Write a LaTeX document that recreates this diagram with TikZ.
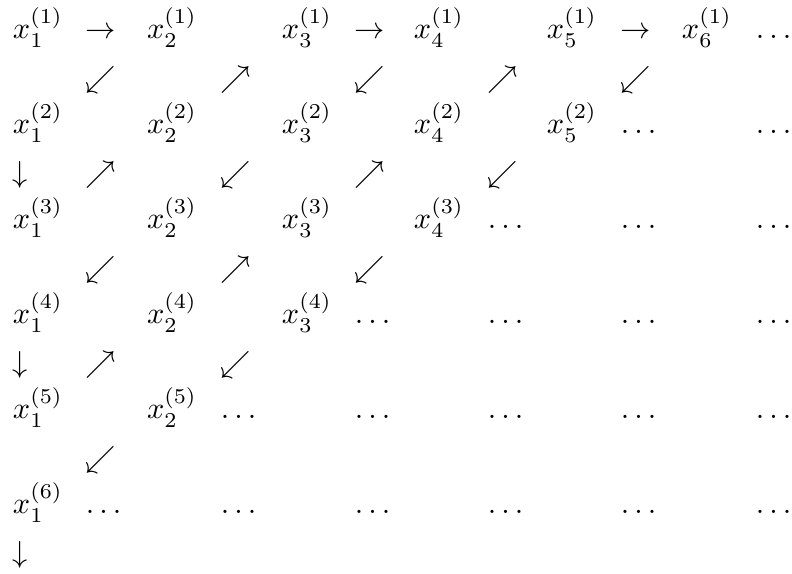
\documentclass[tikz,border=0pt]{standalone}
\begin{document}
\begin{tikzpicture}[x=0.33pt,y=-0.33pt,
  entry/.style={inner sep=0pt,outer sep=0pt,anchor=base west,execute at begin node=$,execute at end node=$},
  glyph/.style={inner sep=0pt,outer sep=0pt,anchor=base west,execute at begin node=$,execute at end node=$}]
\useasboundingbox (0,0) rectangle (792,574);
% column origins: c1=13 c2=86 c3=147 c4=221 c5=282 c6=355 c7=414 c8=488 c9=547 c10=621 c11=682 c12=756
% row 1
\node[entry] (x11) at (13,39) {x_1^{(1)}};
\node[glyph] (r11) at (86,39) {\rightarrow};
\node[entry] (x21) at (147,39) {x_2^{(1)}};
\node[entry] (x31) at (282,39) {x_3^{(1)}};
\node[glyph] (r31) at (355,39) {\rightarrow};
\node[entry] (x41) at (414,39) {x_4^{(1)}};
\node[entry] (x51) at (547,39) {x_5^{(1)}};
\node[glyph] (r51) at (621,39) {\rightarrow};
\node[entry] (x61) at (682,39) {x_6^{(1)}};
\node[entry] (d1-12) at (756,39) {\ldots};
% arrow row 1
\node[glyph] (a1-2) at (86,87.5) {\swarrow};
\node[glyph] (a1-4) at (221,87.5) {\nearrow};
\node[glyph] (a1-6) at (355,87.5) {\swarrow};
\node[glyph] (a1-8) at (488,87.5) {\nearrow};
\node[glyph] (a1-10) at (621,87.5) {\swarrow};
% row 2
\node[entry] (x12) at (13,134) {x_1^{(2)}};
\node[entry] (x22) at (147,134) {x_2^{(2)}};
\node[entry] (x32) at (282,134) {x_3^{(2)}};
\node[entry] (x42) at (414,134) {x_4^{(2)}};
\node[entry] (x52) at (547,134) {x_5^{(2)}};
\node[entry] (d2-10) at (621,134) {\ldots};
\node[entry] (d2-12) at (756,134) {\ldots};
% arrow row 2
\node[glyph] (a2-1) at (13,182.5) {\downarrow};
\node[glyph] (a2-2) at (86,182.5) {\nearrow};
\node[glyph] (a2-4) at (221,182.5) {\swarrow};
\node[glyph] (a2-6) at (355,182.5) {\nearrow};
\node[glyph] (a2-8) at (488,182.5) {\swarrow};
% row 3
\node[entry] (x13) at (13,229) {x_1^{(3)}};
\node[entry] (x23) at (147,229) {x_2^{(3)}};
\node[entry] (x33) at (282,229) {x_3^{(3)}};
\node[entry] (x43) at (414,229) {x_4^{(3)}};
\node[entry] (d3-8) at (488,229) {\ldots};
\node[entry] (d3-10) at (621,229) {\ldots};
\node[entry] (d3-12) at (756,229) {\ldots};
% arrow row 3
\node[glyph] (a3-2) at (86,277.5) {\swarrow};
\node[glyph] (a3-4) at (221,277.5) {\nearrow};
\node[glyph] (a3-6) at (355,277.5) {\swarrow};
% row 4
\node[entry] (x14) at (13,324) {x_1^{(4)}};
\node[entry] (x24) at (147,324) {x_2^{(4)}};
\node[entry] (x34) at (282,324) {x_3^{(4)}};
\node[entry] (d4-6) at (355,324) {\ldots};
\node[entry] (d4-8) at (488,324) {\ldots};
\node[entry] (d4-10) at (621,324) {\ldots};
\node[entry] (d4-12) at (756,324) {\ldots};
% arrow row 4
\node[glyph] (a4-1) at (13,372.5) {\downarrow};
\node[glyph] (a4-2) at (86,372.5) {\nearrow};
\node[glyph] (a4-4) at (221,372.5) {\swarrow};
% row 5
\node[entry] (x15) at (13,419) {x_1^{(5)}};
\node[entry] (x25) at (147,419) {x_2^{(5)}};
\node[entry] (d5-4) at (221,419) {\ldots};
\node[entry] (d5-6) at (355,419) {\ldots};
\node[entry] (d5-8) at (488,419) {\ldots};
\node[entry] (d5-10) at (621,419) {\ldots};
\node[entry] (d5-12) at (756,419) {\ldots};
% arrow row 5
\node[glyph] (a5-2) at (86,467.5) {\swarrow};
% row 6
\node[entry] (x16) at (13,514) {x_1^{(6)}};
\node[entry] (d6-2) at (86,514) {\ldots};
\node[entry] (d6-4) at (221,514) {\ldots};
\node[entry] (d6-6) at (355,514) {\ldots};
\node[entry] (d6-8) at (488,514) {\ldots};
\node[entry] (d6-10) at (621,514) {\ldots};
\node[entry] (d6-12) at (756,514) {\ldots};
% arrow row 6
\node[glyph] (a6-1) at (13,562.5) {\downarrow};
\end{tikzpicture}
\end{document}
